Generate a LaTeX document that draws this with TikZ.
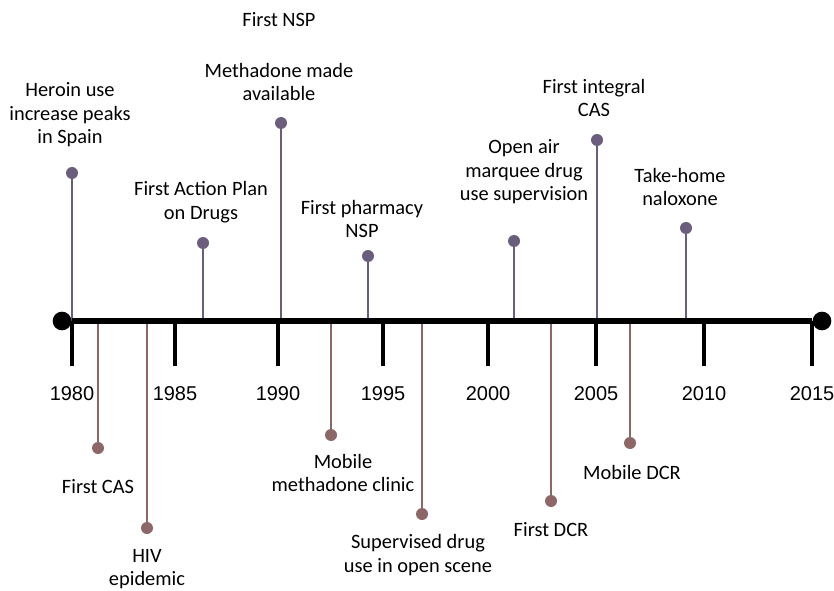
\documentclass[tikz,border=0pt]{standalone}
\usepackage{fontspec}
\setmainfont{Carlito}
\newfontfamily\yearfont{Liberation Sans}
\usetikzlibrary{positioning}
\definecolor{tlup}{HTML}{6B5E7D}
\definecolor{tldown}{HTML}{8D6768}

\begin{document}
\begin{tikzpicture}[
  x=0.75pt, y=-0.75pt,
  updot/.style={circle, fill=tlup, inner sep=0pt, minimum size=9pt},
  downdot/.style={circle, fill=tldown, inner sep=0pt, minimum size=9pt},
  upstem/.style={draw=tlup, line width=2.2pt},
  downstem/.style={draw=tldown, line width=2.2pt},
  enddot/.style={circle, fill=black, inner sep=0pt, minimum size=14pt},
  evlbl/.style={align=center, font=\fontsize{15.3}{17.6}\selectfont, text=black},
  yrlbl/.style={font=\yearfont\fontsize{15}{18}\selectfont, text=black},
]
\useasboundingbox (0,0) rectangle (834,591);

%% ---- stems above the line ----
\foreach \x/\y [count=\i] in {72/173, 203/243, 281/123, 368/256, 514/241, 597/140, 686/228}{
  \coordinate (ua\i) at (\x,321);
  \node[updot] (u\i) at (\x,\y) {};
  \draw[upstem] (ua\i) -- (u\i);
}

%% ---- stems below the line ----
\foreach \x/\y [count=\i] in {98/448, 147/528, 331/435, 422/514, 551/501, 630/443}{
  \coordinate (da\i) at (\x,321);
  \node[downdot] (d\i) at (\x,\y) {};
  \draw[downstem] (da\i) -- (d\i);
}

%% ---- time axis ----
\foreach \x/\yr in {72/1980, 175/1985, 278/1990, 383/1995, 488/2000, 596/2005, 704/2010, 812/2015}{
  \draw[line width=3pt] (\x,321) -- (\x,366);
  \node[yrlbl] (y\yr) at (\x,394) {\yr};
}
\node[enddot] (start) at (62,321) {};
\node[enddot] (end) at (822,321) {};
\draw[line width=4.5pt] (start) -- (end);

%% ---- labels above ----
\node[evlbl] (heroin) at (70,115) {Heroin use\\increase peaks\\in Spain};
\node[evlbl] (plan) at (201,202) {First Action Plan\\on Drugs};
\node[evlbl] (nsp) at (279,20) {First NSP};
\node[evlbl] (metha) at (279,82) {Methadone made\\available};
\node[evlbl] (pharm) at (362,219) {First pharmacy\\NSP};
\node[evlbl] (openair) at (524,172) {Open air\\marquee drug\\use supervision};
\node[evlbl] (integ) at (594,98) {First integral\\CAS};
\node[evlbl] (nalox) at (680,187) {Take-home\\naloxone};

%% ---- labels below ----
\node[evlbl] (cas) at (98,487) {First CAS};
\node[evlbl] (hiv) at (147,569) {HIV\\epidemic};
\node[evlbl] (mobmeth) at (343,473) {Mobile\\methadone clinic};
\node[evlbl] (superv) at (418,555) {Supervised drug\\use in open scene};
\node[evlbl] (dcr) at (551,530) {First DCR};
\node[evlbl] (mobdcr) at (632,472) {Mobile DCR};

\end{tikzpicture}
\end{document}
